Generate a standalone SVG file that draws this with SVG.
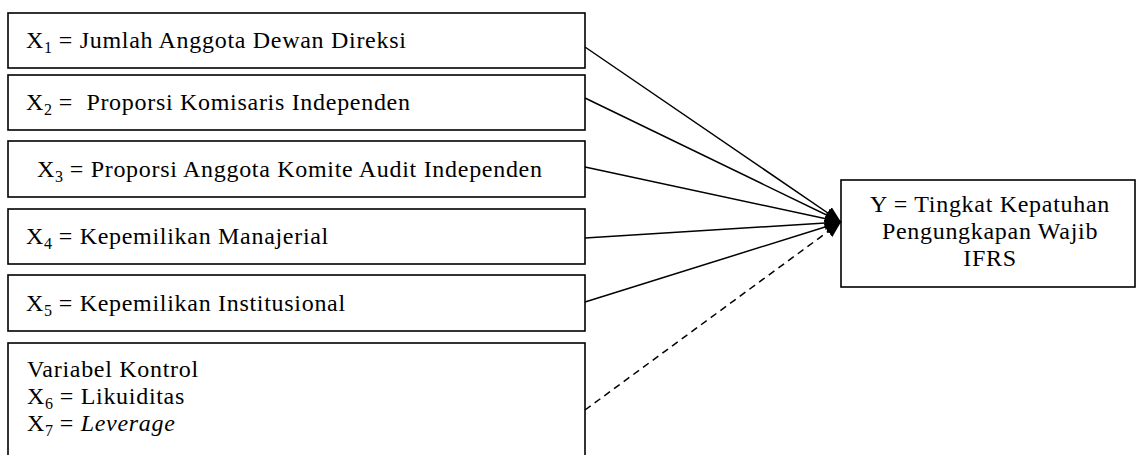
<svg xmlns="http://www.w3.org/2000/svg" width="1136" height="455" viewBox="0 0 1136 455">
<style>
.box{fill:#fff;stroke:#000;stroke-width:1.6}
.t{font-family:"Liberation Serif","Times New Roman",serif;font-size:24px;letter-spacing:0.7px;fill:#000;white-space:pre}
.s{font-size:16px;letter-spacing:0}
.c{fill:none;stroke:#000;stroke-width:1.5}
.d{stroke-dasharray:7,5}
</style>
<defs>
<marker id="ah" markerUnits="userSpaceOnUse" markerWidth="18" markerHeight="14" refX="16" refY="7" orient="auto">
<path d="M0,0 L16,7 L0,14 Z" fill="#000"/>
</marker>
</defs>
<g id="x1"><rect class="box" x="8" y="13" width="577" height="55"/>
<text class="t" x="26" y="48">X<tspan class="s" dy="5">1</tspan><tspan dy="-5"> = Jumlah Anggota Dewan Direksi</tspan></text></g>
<g id="x2"><rect class="box" x="8" y="75" width="577" height="55"/>
<text class="t" x="26" y="110">X<tspan class="s" dy="5">2</tspan><tspan dy="-5"> =  Proporsi Komisaris Independen</tspan></text></g>
<g id="x3"><rect class="box" x="8" y="141" width="577" height="56"/>
<text class="t" x="37" y="177">X<tspan class="s" dy="5">3</tspan><tspan dy="-5"> = Proporsi Anggota Komite Audit Independen</tspan></text></g>
<g id="x4"><rect class="box" x="8" y="209" width="577" height="55"/>
<text class="t" x="26" y="244">X<tspan class="s" dy="5">4</tspan><tspan dy="-5"> = Kepemilikan Manajerial</tspan></text></g>
<g id="x5"><rect class="box" x="8" y="275" width="577" height="56"/>
<text class="t" x="26" y="311">X<tspan class="s" dy="5">5</tspan><tspan dy="-5"> = Kepemilikan Institusional</tspan></text></g>
<g id="kontrol"><rect class="box" x="8" y="343" width="577" height="130"/>
<text class="t" x="27" y="377">Variabel Kontrol</text>
<text class="t" x="27" y="404">X<tspan class="s" dy="5">6</tspan><tspan dy="-5"> = Likuiditas</tspan></text>
<text class="t" x="27" y="431">X<tspan class="s" dy="5">7</tspan><tspan dy="-5"> = </tspan><tspan font-style="italic">Leverage</tspan></text></g>
<g id="y"><rect class="box" x="841" y="180" width="294" height="107"/>
<text class="t" x="990" y="212" text-anchor="middle">Y = Tingkat Kepatuhan</text>
<text class="t" x="990" y="239" text-anchor="middle">Pengungkapan Wajib</text>
<text class="t" x="990" y="266" text-anchor="middle">IFRS</text></g>
<g id="connectors">
<line class="c" x1="585" y1="47" x2="841" y2="222" marker-end="url(#ah)"/>
<line class="c" x1="585" y1="98" x2="841" y2="222" marker-end="url(#ah)"/>
<line class="c" x1="585" y1="167" x2="841" y2="222" marker-end="url(#ah)"/>
<line class="c" x1="585" y1="238" x2="841" y2="222" marker-end="url(#ah)"/>
<line class="c" x1="585" y1="302" x2="841" y2="222" marker-end="url(#ah)"/>
<line class="c d" x1="585" y1="410" x2="841" y2="222" marker-end="url(#ah)"/>
</g>
</svg>
